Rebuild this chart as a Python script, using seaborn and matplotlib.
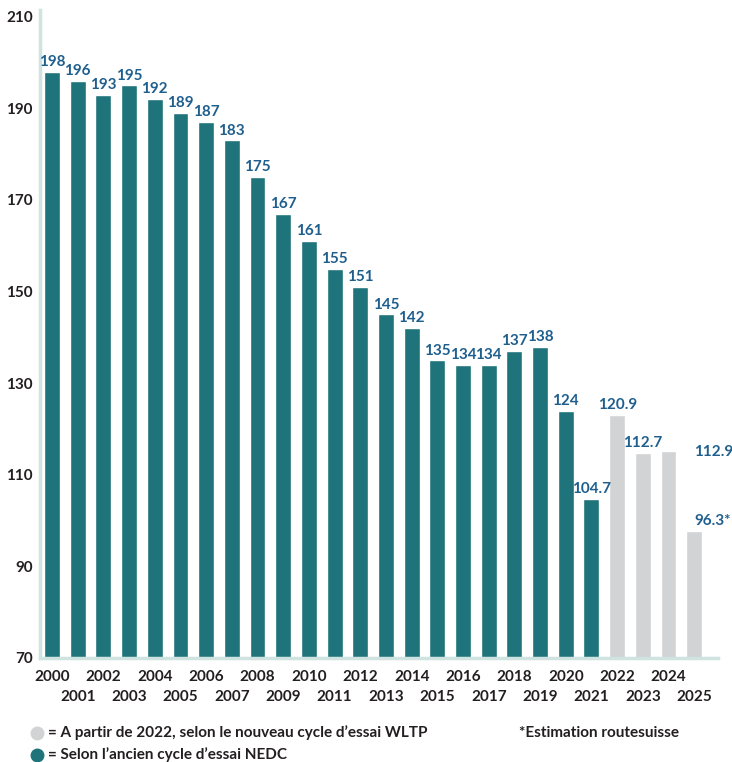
import matplotlib.pyplot as plt
from matplotlib.lines import Line2D
import pandas as pd
import seaborn as sns

years = list(range(2000, 2026))
# bar heights
co2 = [198, 196, 193, 195, 192, 189, 187, 183, 175, 167, 161, 155, 151, 145,
       142, 135, 134, 134, 137, 138, 124, 104.7, 123.1, 114.8, 115.2, 97.7]
labels = ['198', '196', '193', '195', '192', '189', '187', '183', '175', '167',
          '161', '155', '151', '145', '142', '135', '134', '134', '137', '138',
          '124', '104.7', '120.9', '112.7', '112.9', '96.3*']
cycle = ['NEDC'] * 22 + ['WLTP'] * 4

TEAL = '#1f737b'
GREY = '#d1d3d4'
BLUE = '#1f5f8e'
DARK = '#231f20'
SPINE = '#cfe3e0'
FS = 11

df = pd.DataFrame({'year': [str(y) for y in years], 'co2': co2, 'cycle': cycle})

sns.set_style('white')
plt.rcParams['font.family'] = ['Lato', 'DejaVu Sans']

fig = plt.figure(figsize=(7.32, 7.62), dpi=100)
ax = fig.add_axes([0.0546, 0.1365, 0.981 - 0.0546, 0.987 - 0.1365])

sns.barplot(data=df, x='year', y='co2', hue='cycle',
            palette={'NEDC': TEAL, 'WLTP': GREY}, dodge=False, saturation=1,
            width=0.62, legend=False, ax=ax)

ax.set_ylim(70, 211.5)
ax.set_xlim(-0.47, 25.93)
ax.set_yticks(range(70, 211, 20))
ax.set_xlabel('')
ax.set_ylabel('')

for s in ['top', 'right']:
    ax.spines[s].set_visible(False)
for s in ['left', 'bottom']:
    ax.spines[s].set_color(SPINE)
    ax.spines[s].set_linewidth(2.5)

ax.tick_params(axis='y', length=0, pad=5, labelsize=FS, labelcolor=DARK)
for t in ax.get_yticklabels():
    t.set_fontweight('bold')

# two-row year labels
ax.set_xticks(range(len(years)))
ax.set_xticklabels([])
ax.tick_params(axis='x', length=0)
for i, y in enumerate(years):
    yoff = -9 if i % 2 == 0 else -23
    ax.annotate(str(y), xy=(i, 70), xytext=(0, yoff), textcoords='offset points',
                ha='center', va='top', fontsize=FS, fontweight='bold', color=DARK)

# value labels
for i, (h, lab) in enumerate(zip(co2, labels)):
    if years[i] == 2024:
        # label drawn to the right, beside the 2025 bar
        ax.annotate(lab, xy=(i + 1, h), xytext=(0, -1), textcoords='offset points',
                    ha='left', va='center', fontsize=FS, fontweight='bold', color=BLUE)
    elif years[i] == 2025:
        ax.annotate(lab, xy=(i, h), xytext=(0, 2), textcoords='offset points',
                    ha='left', va='bottom', fontsize=FS, fontweight='bold', color=BLUE)
    else:
        ax.annotate(lab, xy=(i, h), xytext=(0, 2), textcoords='offset points',
                    ha='center', va='bottom', fontsize=FS, fontweight='bold', color=BLUE)

# legend
fig.add_artist(Line2D([37 / 732], [1 - 733 / 762], marker='o', markersize=9,
                      color=GREY, transform=fig.transFigure))
fig.add_artist(Line2D([37 / 732], [1 - 755 / 762], marker='o', markersize=9,
                      color=TEAL, transform=fig.transFigure))
fig.text(48 / 732, 1 - 733 / 762,
         '= A partir de 2022, selon le nouveau cycle d\u2019essai WLTP',
         ha='left', va='center', fontsize=FS, fontweight='bold', color=DARK)
fig.text(48 / 732, 1 - 755 / 762, '= Selon l\u2019ancien cycle d\u2019essai NEDC',
         ha='left', va='center', fontsize=FS, fontweight='bold', color=DARK)
fig.text(519 / 732, 1 - 733 / 762, '*Estimation routesuisse',
         ha='left', va='center', fontsize=FS, fontweight='bold', color=DARK)

fig.savefig('out.png', dpi=100)
